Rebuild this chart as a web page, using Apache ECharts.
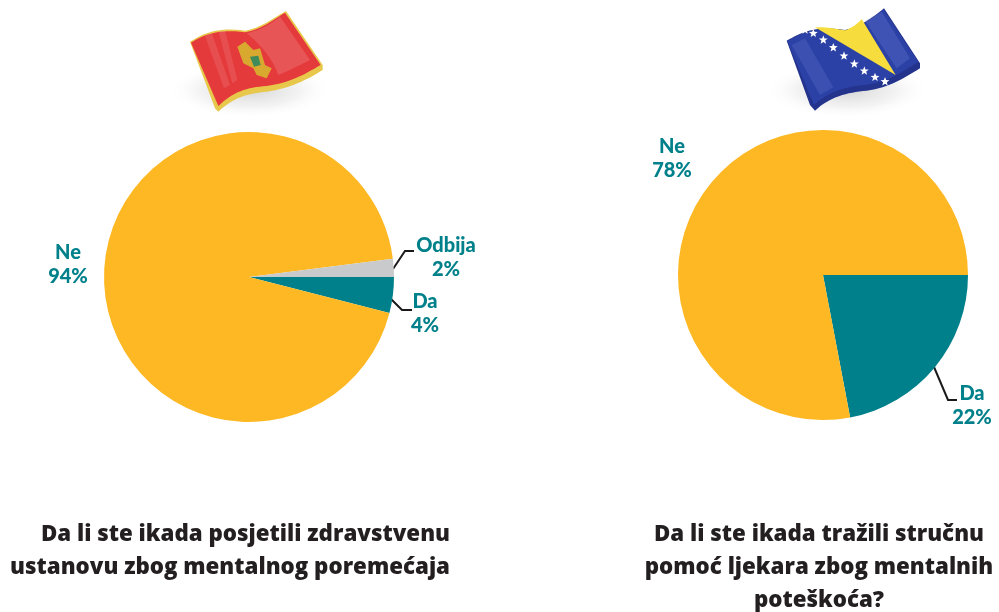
<!DOCTYPE html>
<html>
<head>
<meta charset="utf-8">
<style>
  html, body { margin: 0; padding: 0; background: #fff; }
  #chart { width: 999px; height: 612px; }
</style>
<script src="https://cdn.jsdelivr.net/npm/echarts@6/dist/echarts.min.js"></script>
</head>
<body>
<div id="chart"></div>
<script>
  // values
  const leftNames = ['Da', 'Ne', 'Odbija']
  const leftValues = [4, 94, 2]
  const rightNames = ['Da', 'Ne']
  const rightValues = [22, 78]
  const leftTitle = ['Da li ste ikada posjetili zdravstvenu', 'ustanovu zbog mentalnog poremećaja']
  const rightTitle = ['Da li ste ikada tražili stručnu', 'pomoć ljekara zbog mentalnih', 'poteškoća?']

  const sliceColors = { Da: '#00808a', Ne: '#fdb823', Odbija: '#c9cacc' }
  const teal = '#00808a'

  // where each label sits and how its leader runs
  const leftLabels = {
    Da: { x: 425, y: 314, line: [[389, 297], [402, 310], [412, 310]] },
    Ne: { x: 68, y: 265 },
    Odbija: { x: 446, y: 258, line: [[393, 269], [405, 251], [414, 251]] }
  }
  const rightLabels = {
    Da: { x: 972, y: 406, line: [[934, 367], [948, 400], [957, 400]] },
    Ne: { x: 672, y: 159 }
  }

  function pieSeries(names, values, center, labels) {
    return {
      type: 'pie',
      radius: 145,
      center: center,
      startAngle: 0,
      clockwise: true,
      animation: false,
      silent: true,
      data: names.map((n, i) => ({
        name: n,
        value: values[i],
        itemStyle: { color: sliceColors[n] },
        labelLine: { show: !!labels[n].line }
      })),
      label: {
        show: true,
        position: 'outer',
        overflow: 'none',
        formatter: p => `${p.name}\n${p.value}%`,
        color: teal,
        fontFamily: 'Lato',
        fontWeight: 900,
        fontSize: 20,
        lineHeight: 24,
        align: 'center'
      },
      labelLine: { show: true, lineStyle: { color: '#1a1a1a', width: 2 } },
      labelLayout: params => {
        const l = labels[names[params.dataIndex]]
        return { x: l.x, y: l.y, align: 'center', verticalAlign: 'middle', labelLinePoints: l.line, hideOverlap: false }
      }
    }
  }

  // title boxes carry 5px padding, so x is 5 short of where the ink lands
  function titleLines(lines, x, align, top) {
    return lines.map((t, i) => ({
      text: t,
      left: x,
      top: top + i * 33,
      textAlign: align,
      textStyle: { fontFamily: 'Open Sans', fontWeight: 800, fontSize: 22.3, color: '#231f20' }
    }))
  }

  // flatten an M/L/C/Z outline into polygon points, graphic has no path type
  function outline(d) {
    const t = d.match(/[MLCZ]|-?[\d.]+/g)
    const pts = []
    let i = 0, cmd = ''
    while (i < t.length) {
      if (/[MLCZ]/.test(t[i])) { cmd = t[i++]; if (cmd === 'Z') continue }
      if (cmd === 'C') {
        const p0 = pts[pts.length - 1]
        const c = [+t[i], +t[i + 1], +t[i + 2], +t[i + 3], +t[i + 4], +t[i + 5]]
        i += 6
        for (let k = 1; k <= 16; k++) {
          const u = k / 16, v = 1 - u
          pts.push([
            v * v * v * p0[0] + 3 * v * v * u * c[0] + 3 * v * u * u * c[2] + u * u * u * c[4],
            v * v * v * p0[1] + 3 * v * v * u * c[1] + 3 * v * u * u * c[3] + u * u * u * c[5]
          ])
        }
      } else {
        pts.push([+t[i], +t[i + 1]])
        i += 2
      }
    }
    return pts
  }

  function path(d, fill, extra) {
    return { type: 'polygon', shape: { points: outline(d) }, style: Object.assign({ fill: fill }, extra || {}) }
  }

  function star(cx, cy, r) {
    const pts = []
    for (let i = 0; i < 10; i++) {
      const a = -Math.PI / 2 + i * Math.PI / 5
      const rr = i % 2 ? r * 0.42 : r
      pts.push([cx + rr * Math.cos(a), cy + rr * Math.sin(a)])
    }
    return { type: 'polygon', shape: { points: pts }, style: { fill: '#fff' } }
  }

  // soft shadow under a flag, a circle stretched sideways
  function shadow(cx, cy) {
    return {
      type: 'circle',
      x: cx,
      y: cy,
      scaleX: 2.9,
      shape: { cx: 0, cy: 0, r: 85 },
      style: {
        fill: {
          type: 'radial', x: 0.5, y: 0.5, r: 0.5,
          colorStops: [{ offset: 0, color: 'rgba(170,170,170,0.5)' }, { offset: 0.6, color: 'rgba(205,205,205,0.25)' }, { offset: 1, color: 'rgba(255,255,255,0)' }]
        }
      }
    }
  }

  // flags, drawn at 3x and scaled down
  const redFlag = {
    type: 'group', x: 150, y: 0, scaleX: 1 / 3, scaleY: 1 / 3, silent: true,
    children: [
      shadow(300, 270),
      path('M120 125 C160 100 205 80 285 92 C330 85 370 55 408 33 L518 195 L518 210 C470 240 420 265 350 275 C295 280 250 292 205 335 L195 325Z', '#e8c84a'),
      path('M123 128 C160 105 205 85 285 97 C330 90 370 60 405 38 L512 195 C460 225 420 248 350 258 C290 262 250 275 205 318Z', '#e53a3c'),
      path('M290 100 C330 90 360 75 390 50 L480 180 C440 200 410 215 385 225 C370 180 330 130 290 100Z', '#fff', { opacity: 0.14 }),
      path('M165 108 L185 98 L240 255 L222 265Z', '#fff', { opacity: 0.1 }),
      path('M205 92 L225 90 L262 240 L247 250Z', '#fff', { opacity: 0.1 }),
      path('M262 140 L285 125 L310 150 L330 145 L345 195 L365 205 L350 235 L320 225 L310 205 L280 190Z', '#d8a92e'),
      path('M300 170 L325 167 L332 195 L312 200Z', '#3f8b5a')
    ]
  }

  const bhStars = [[165, 90], [190, 100], [220, 120], [250, 143], [282, 168], [313, 192], [343, 213], [375, 232], [405, 245]]

  const blueFlag = {
    type: 'group', x: 750, y: 0, scaleX: 1 / 3, scaleY: 1 / 3, silent: true,
    children: [
      shadow(290, 270),
      path('M110 122 C150 100 190 75 285 90 C330 80 365 55 402 25 L510 190 L510 205 C460 235 420 262 350 272 C290 278 240 290 195 332 L180 315Z', '#24338c'),
      path('M112 124 C150 102 190 78 285 93 C330 84 365 58 400 28 L505 186 C455 215 420 245 345 255 C290 260 240 272 192 315Z', '#2b41a6'),
      path('M195 82 C225 80 255 86 285 91 C305 84 322 72 335 57 L437 225Z', '#f6dc3c'),
      path('M125 135 L165 115 L250 262 L210 285Z', '#6a7fd0', { opacity: 0.25 }),
      path('M345 62 L395 35 L480 175 L440 205Z', '#6a7fd0', { opacity: 0.3 }),
      { type: 'group', children: bhStars.map(s => star(s[0], s[1], 14)) }
    ]
  }

  const chart = echarts.init(document.getElementById('chart'), null, { renderer: 'canvas' })
  chart.setOption({
    backgroundColor: '#fff',
    animation: false,
    tooltip: { show: false },
    title: [
      ...titleLines(leftTitle, 445, 'right', 519),
      ...titleLines(rightTitle, 814, 'center', 519)
    ],
    series: [
      pieSeries(leftNames, leftValues, [249, 277], leftLabels),
      pieSeries(rightNames, rightValues, [823, 275], rightLabels)
    ],
    graphic: [redFlag, blueFlag]
  })
</script>
</body>
</html>
